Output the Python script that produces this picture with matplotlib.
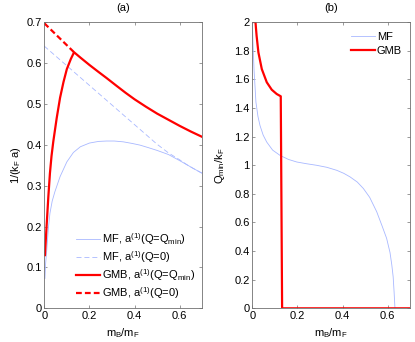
import matplotlib
matplotlib.use("Agg")
import matplotlib.pyplot as plt
from matplotlib.ticker import FormatStrFormatter

plt.rcParams['font.family'] = ['Liberation Sans', 'DejaVu Sans']
plt.rcParams['font.size'] = 8
plt.rcParams['mathtext.default'] = 'regular'

# panel (a): 1/(kF a) vs mB/mF
mf_min_x = [0.003, 0.006, 0.011, 0.018, 0.025, 0.035, 0.047, 0.07, 0.1, 0.129, 0.16, 0.2, 0.24, 0.276,
            0.31, 0.35, 0.39, 0.424, 0.46, 0.5, 0.55, 0.6, 0.632, 0.66, 0.7]
mf_min_y = [0.073, 0.11, 0.143, 0.195, 0.232, 0.262, 0.285, 0.322, 0.358, 0.381, 0.395, 0.404, 0.408, 0.409,
            0.409, 0.407, 0.403, 0.399, 0.393, 0.386, 0.376, 0.361, 0.351, 0.342, 0.330]
mf_zero_x = [0, 0.1, 0.2, 0.3, 0.4, 0.45, 0.5, 0.55, 0.6, 0.632, 0.66, 0.7]
mf_zero_y = [0.641, 0.593, 0.545, 0.497, 0.449, 0.425, 0.401, 0.380, 0.363, 0.351, 0.342, 0.330]
gmb_min_x = [0.003, 0.007, 0.011, 0.018, 0.025, 0.032, 0.04, 0.055, 0.07, 0.085, 0.1, 0.118, 0.132,
             0.16, 0.2, 0.24, 0.276, 0.32, 0.36, 0.4, 0.45, 0.5, 0.55, 0.6, 0.65, 0.7]
gmb_min_y = [0.13, 0.17, 0.208, 0.273, 0.33, 0.372, 0.408, 0.465, 0.515, 0.553, 0.585, 0.61, 0.626,
             0.613, 0.595, 0.578, 0.563, 0.544, 0.527, 0.511, 0.493, 0.476, 0.461, 0.446, 0.432, 0.419]
gmb_zero_x = [0, 0.132]
gmb_zero_y = [0.697, 0.626]

# panel (b): Qmin/kF vs mB/mF
mf_q_x = [0, 0.003, 0.0075, 0.016, 0.025, 0.034, 0.048, 0.064, 0.09, 0.123, 0.16, 0.197, 0.24, 0.285,
          0.33, 0.374, 0.405, 0.433, 0.465, 0.492, 0.52, 0.551, 0.575, 0.595, 0.61, 0.618, 0.624, 0.628,
          0.632, 0.7]
mf_q_y = [2.0, 1.85, 1.67, 1.44, 1.34, 1.277, 1.21, 1.161, 1.105, 1.068, 1.04, 1.022, 1.01, 0.999,
          0.985, 0.964, 0.943, 0.918, 0.882, 0.837, 0.775, 0.675, 0.575, 0.489, 0.39, 0.303, 0.22, 0.118,
          0.0, 0.0]
gmb_q_x = [0.004, 0.014, 0.016, 0.019, 0.027, 0.042, 0.064, 0.086, 0.108, 0.126, 0.132, 0.7]
gmb_q_y = [2.0, 2.0, 1.96, 1.903, 1.787, 1.671, 1.579, 1.527, 1.497, 1.481, 0.0, 0.0]

blue = '#a8b8ff'
red = '#ff0000'
axcol = '#707070'

fig = plt.figure(figsize=(4.15, 3.42), dpi=100)
ax1 = fig.add_axes([0.1067, 0.0985, 0.3807, 0.8372])
ax2 = fig.add_axes([0.608, 0.0985, 0.3807, 0.8372])

ax1.plot(mf_min_x, mf_min_y, color=blue, lw=0.6, label='MF, a$^{(1)}$(Q=Q$_{min}$)')
ax1.plot(mf_zero_x, mf_zero_y, color=blue, lw=0.6, ls=(0, (6, 3.5)), label='MF, a$^{(1)}$(Q=0)')
ax1.plot(gmb_min_x, gmb_min_y, color=red, lw=1.6, label='GMB, a$^{(1)}$(Q=Q$_{min}$)')
ax1.plot(gmb_zero_x, gmb_zero_y, color=red, lw=1.6, ls=(0, (2.6, 1.4)), label='GMB, a$^{(1)}$(Q=0)')
ax1.set_xlim(0, 0.7)
ax1.set_ylim(0, 0.7)
ax1.set_xticks([0, 0.2, 0.4, 0.6])
ax1.set_yticks([0, 0.1, 0.2, 0.3, 0.4, 0.5, 0.6, 0.7])
ax1.set_title('(a)', fontsize=8, pad=8)
ax1.set_xlabel('m$_B$/m$_F$', labelpad=4)
ax1.set_ylabel('1/(k$_F$ a)', labelpad=2)
ax1.legend(loc='lower left', bbox_to_anchor=(0.14, -0.01), frameon=False,
           handlelength=2.1, handletextpad=0.2, labelspacing=0.2, fontsize=8)

ax2.plot(mf_q_x, mf_q_y, color=blue, lw=0.6, label='MF')
ax2.plot(gmb_q_x, gmb_q_y, color=red, lw=1.6, label='GMB')
ax2.set_xlim(0, 0.7)
ax2.set_ylim(0, 2)
ax2.set_xticks([0, 0.2, 0.4, 0.6])
ax2.set_yticks([0, 0.2, 0.4, 0.6, 0.8, 1.0, 1.2, 1.4, 1.6, 1.8, 2.0])
ax2.set_title('(b)', fontsize=8, pad=8)
ax2.set_xlabel('m$_B$/m$_F$', labelpad=4)
ax2.set_ylabel('Q$_{min}$/k$_F$', labelpad=5)
ax2.legend(loc='upper right', bbox_to_anchor=(1.01, 1.0), frameon=False,
           handlelength=2.1, handletextpad=0.2, labelspacing=0.35, fontsize=8)

for ax in (ax1, ax2):
    ax.xaxis.set_major_formatter(FormatStrFormatter('%g'))
    ax.yaxis.set_major_formatter(FormatStrFormatter('%g'))
    ax.tick_params(direction='in', top=True, right=True, length=2.5, width=0.5,
                   color=axcol, labelsize=8, pad=2)
    for s in ax.spines.values():
        s.set_color(axcol)
        s.set_linewidth(0.6)

fig.savefig('out.png', dpi=100)
